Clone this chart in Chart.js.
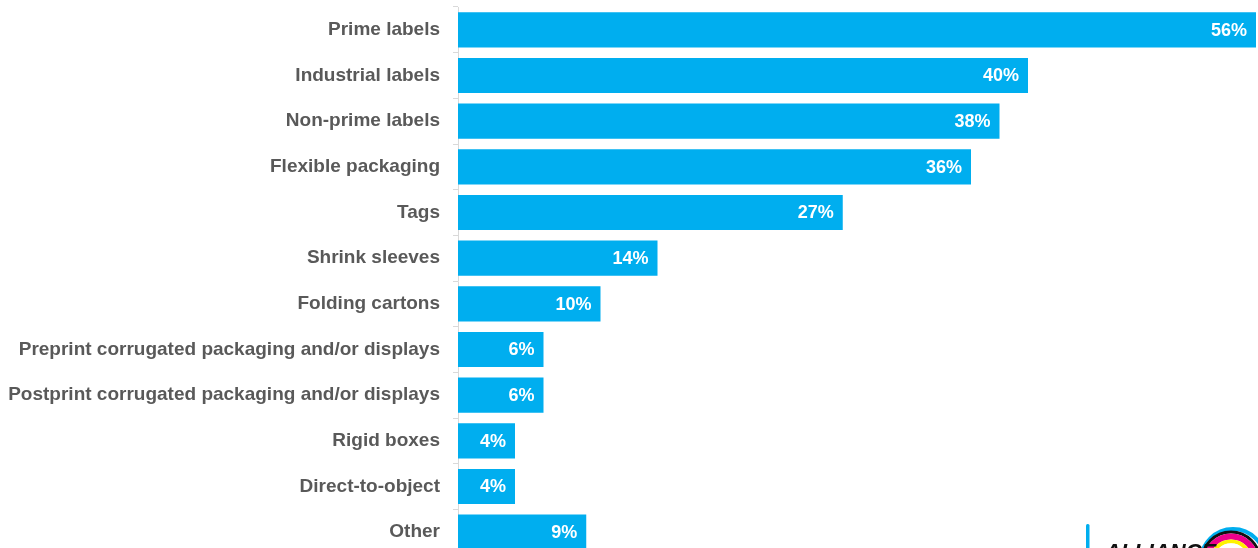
<!DOCTYPE html>
<html>
<head>
<meta charset="utf-8">
<script src="https://cdn.jsdelivr.net/npm/chart.js@4"></script>
<style>
  html, body { margin: 0; padding: 0; background: #fff; overflow: hidden; }
  #wrap { position: absolute; left: 0; top: 0; width: 1258px; height: 556px; }
</style>
</head>
<body>
<div id="wrap"><canvas id="chart"></canvas></div>
<script>
const categories = [
  "Prime labels",
  "Industrial labels",
  "Non-prime labels",
  "Flexible packaging",
  "Tags",
  "Shrink sleeves",
  "Folding cartons",
  "Preprint corrugated packaging and/or displays",
  "Postprint corrugated packaging and/or displays",
  "Rigid boxes",
  "Direct-to-object",
  "Other"
];
const shares = [56, 40, 38, 36, 27, 14, 10, 6, 6, 4, 4, 9];

const FONT = "Arial, 'Liberation Sans', sans-serif";

// percentage labels inside the bar ends
const barLabels = {
  id: 'barLabels',
  afterDatasetsDraw(chart) {
    const ctx = chart.ctx;
    const meta = chart.getDatasetMeta(0);
    ctx.save();
    ctx.font = "bold 18px " + FONT;
    ctx.fillStyle = '#ffffff';
    ctx.textAlign = 'right';
    ctx.textBaseline = 'middle';
    meta.data.forEach((bar, i) => {
      ctx.fillText(shares[i] + '%', bar.x - 9, bar.y + 1);
    });
    ctx.restore();
  }
};

// corner logo, mostly cut off at the bottom edge
const logo = {
  id: 'logo',
  afterDraw(chart) {
    const ctx = chart.ctx;
    ctx.save();
    ctx.fillStyle = '#00aeef';
    ctx.beginPath();
    ctx.roundRect(1086, 524, 3.5, 40, 1.5);
    ctx.fill();

    const cx = 1231, cy = 561;
    const rings = [
      { r: 32, w: 4, c: '#00aeef', dx: 2 },
      { r: 29, w: 3, c: '#111111', dx: 0 },
      { r: 24.5, w: 6, c: '#ec008c', dx: 0 },
      { r: 19.5, w: 4, c: '#fff200', dx: 0 },
      { r: 16, w: 3.5, c: '#ffffff', dx: 0 }
    ];
    rings.forEach(g => {
      ctx.beginPath();
      ctx.strokeStyle = g.c;
      ctx.lineWidth = g.w;
      ctx.arc(cx + g.dx, cy, g.r, Math.PI, 2 * Math.PI);
      ctx.stroke();
    });

    ctx.fillStyle = '#111111';
    ctx.font = "italic 900 22px " + FONT;
    ctx.textBaseline = 'alphabetic';
    ctx.fillText('ALLIANCE', 1105, 559);
    ctx.restore();
  }
};

new Chart(document.getElementById('chart'), {
  type: 'bar',
  data: {
    labels: categories,
    datasets: [{
      data: shares,
      backgroundColor: '#00aeef',
      borderWidth: 0,
      barPercentage: 0.77,
      categoryPercentage: 1
    }]
  },
  options: {
    indexAxis: 'y',
    responsive: true,
    maintainAspectRatio: false,
    animation: false,
    layout: { padding: { top: 7, right: 2, bottom: 1, left: 0 } },
    plugins: {
      legend: { display: false },
      tooltip: { enabled: false }
    },
    scales: {
      x: {
        display: false,
        min: 0,
        max: 56
      },
      y: {
        afterFit(scale) {
          scale.width = 458;
          scale.paddingTop = 0;
          scale.paddingBottom = 0;
        },
        grid: {
          offset: true,
          drawOnChartArea: false,
          tickLength: 5,
          color: '#d9d9d9'
        },
        border: { color: '#d9d9d9', width: 1 },
        ticks: {
          padding: 13,
          color: '#595959',
          font: { family: FONT, size: 19, weight: 'bold' }
        }
      }
    }
  },
  plugins: [barLabels, logo]
});
</script>
</body>
</html>
